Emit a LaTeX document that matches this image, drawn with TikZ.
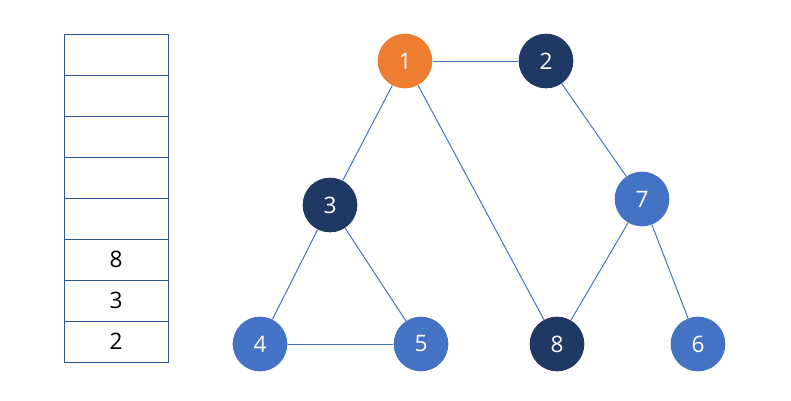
\documentclass[tikz,border=0pt]{standalone}
\usepackage{fontspec}
\setmainfont{Open Sans}
\definecolor{orng}{HTML}{ED7D31}
\definecolor{navy}{HTML}{203864}
\definecolor{blu}{HTML}{4472C4}
\definecolor{tbl}{HTML}{2F5597}
\begin{document}
\begin{tikzpicture}[x=0.75pt,y=-0.75pt,
  vtx/.style={circle,minimum size=41pt,inner sep=0pt,text=white,font=\fontsize{17}{20}\selectfont},
  vo/.style={vtx,fill=orng},
  vn/.style={vtx,fill=navy},
  vb/.style={vtx,fill=blu},
  edge/.style={draw=blu,line width=0.75pt},
  cell/.style={draw=tbl,line width=0.75pt,minimum width=78pt,minimum height=30.75pt,inner sep=0pt,font=\fontsize{17}{20}\selectfont}]
\useasboundingbox (0,0) rectangle (791,400);
\foreach \i/\t in {0/,1/,2/,3/,4/,5/8,6/3,7/2}{
  \node[cell] (c\i) at (116,{54.5+41*\i}) {\t};
}
\node[vo] (n1) at (405,61) {1};
\node[vn] (n2) at (546,61) {2};
\node[vn] (n3) at (330,205) {3};
\node[vb] (n7) at (642,199) {7};
\node[vb] (n4) at (260,344) {4};
\node[vb] (n5) at (421,344) {5};
\node[vn] (n8) at (557,344) {8};
\node[vb] (n6) at (698,344) {6};
\draw[edge] (n1) -- (n2);
\draw[edge] (n1) -- (n3);
\draw[edge] (n1) -- (n8);
\draw[edge] (n2) -- (n7);
\draw[edge] (n3) -- (n4);
\draw[edge] (n3) -- (n5);
\draw[edge] (n4) -- (n5);
\draw[edge] (n7) -- (n8);
\draw[edge] (n7) -- (n6);
\end{tikzpicture}
\end{document}
